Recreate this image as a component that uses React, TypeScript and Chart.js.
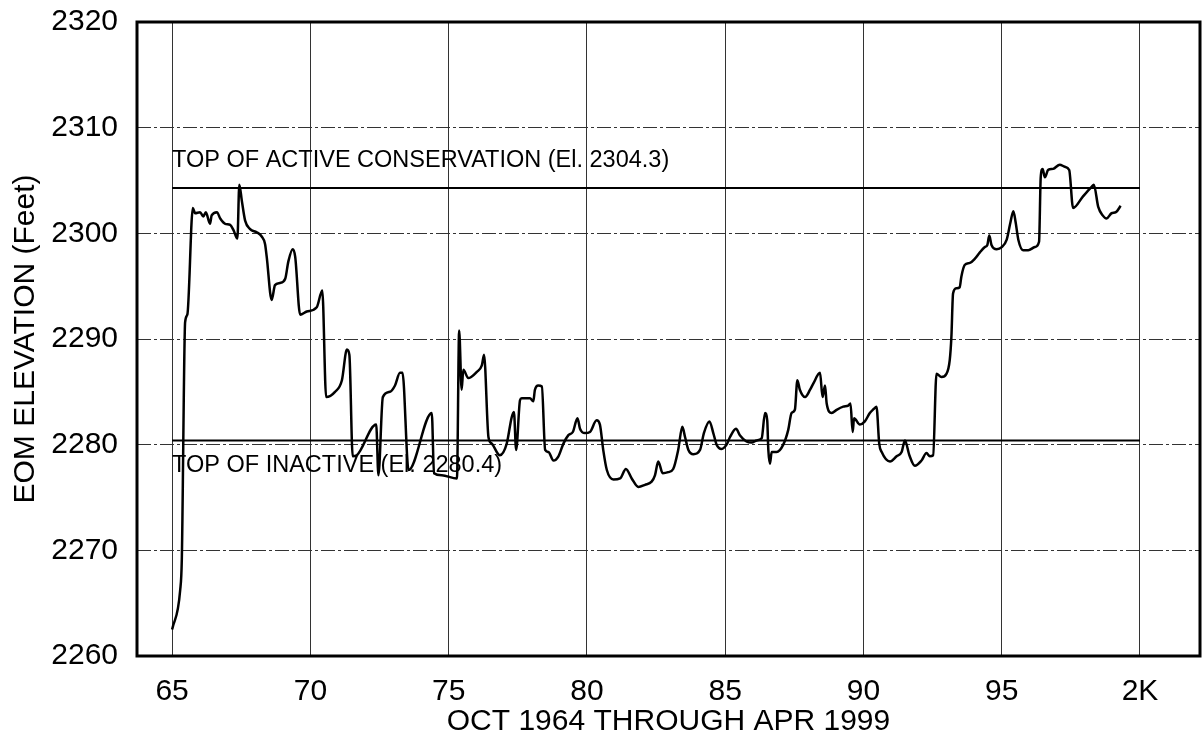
import { useEffect, useRef } from 'react';
import { Chart, registerables } from 'chart.js';

Chart.register(...registerables);

// Time in years (19xx), end-of-month elevation in feet
const years: number[] = [
  65.0, 65.29, 65.35, 65.47, 65.55, 65.75, 65.83, 66.01, 66.13, 66.22,
  66.37, 66.43, 66.62, 66.74, 66.92, 67.1, 67.22, 67.36, 67.43, 67.52,
  67.64, 67.82, 68.06, 68.24, 68.36, 68.42, 68.6, 68.72, 68.9, 69.09,
  69.2, 69.36, 69.45, 69.63, 69.87, 70.23, 70.43, 70.57, 70.89, 71.14,
  71.32, 71.41, 71.53, 71.68, 72.38, 72.46, 72.62, 72.88, 73.06, 73.24,
  73.33, 73.55, 74.39, 74.47, 74.75, 75.3, 75.38, 75.47, 75.53, 75.71,
  76.02, 76.2, 76.28, 76.44, 76.56, 76.85, 77.1, 77.28, 77.36, 77.44,
  77.58, 77.64, 77.94, 78.06, 78.12, 78.24, 78.37, 78.49, 78.61, 78.79,
  78.97, 79.15, 79.33, 79.49, 79.66, 79.75, 79.93, 80.11, 80.35, 80.47,
  80.59, 80.72, 80.96, 81.2, 81.41, 81.62, 81.86, 82.1, 82.34, 82.46,
  82.58, 82.74, 82.94, 83.12, 83.3, 83.45, 83.55, 83.67, 83.85, 84.09,
  84.23, 84.43, 84.57, 84.69, 84.87, 85.05, 85.17, 85.39, 85.53, 85.77,
  85.96, 86.14, 86.32, 86.44, 86.52, 86.56, 86.62, 86.68, 86.86, 87.1,
  87.28, 87.4, 87.52, 87.61, 87.7, 87.89, 88.07, 88.19, 88.43, 88.52,
  88.61, 88.67, 88.85, 89.03, 89.27, 89.45, 89.53, 89.61, 89.66, 89.87,
  90.05, 90.23, 90.38, 90.47, 90.57, 90.66, 90.96, 91.2, 91.38, 91.5,
  91.66, 91.86, 92.1, 92.28, 92.4, 92.52, 92.64, 92.82, 93.0, 93.12,
  93.18, 93.24, 93.36, 93.48, 93.54, 93.66, 93.85, 94.03, 94.21, 94.39,
  94.48, 94.55, 94.63, 94.82, 95.0, 95.18, 95.32, 95.42, 95.5, 95.6,
  95.78, 95.96, 96.2, 96.35, 96.41, 96.48, 96.56, 96.68, 96.86, 97.1,
  97.28, 97.44, 97.58, 97.94, 98.25, 98.33, 98.49, 98.65, 98.79, 98.97,
  99.13, 99.3,
];

const elevations: number[] = [
  2262.5, 2266.2, 2269.1, 2291.6, 2292.3, 2302.4, 2301.9, 2302.0, 2301.6, 2302.0,
  2300.9, 2301.7, 2302.0, 2301.4, 2300.9, 2300.8, 2300.3, 2299.5, 2304.6, 2303.1,
  2301.2, 2300.4, 2300.1, 2299.7, 2299.0, 2297.8, 2293.7, 2295.1, 2295.3, 2295.7,
  2297.3, 2298.5, 2297.8, 2292.3, 2292.6, 2293.0, 2294.6, 2284.5, 2285.0, 2286.1,
  2289.0, 2288.5, 2278.9, 2279.0, 2281.9, 2277.1, 2284.5, 2285.0, 2285.6, 2286.8,
  2286.8, 2277.6, 2283.0, 2277.3, 2277.1, 2276.8, 2290.8, 2285.2, 2287.1, 2286.3,
  2286.9, 2287.5, 2288.5, 2280.7, 2280.1, 2279.0, 2280.1, 2282.6, 2283.1, 2279.5,
  2284.2, 2284.4, 2284.4, 2284.1, 2285.2, 2285.6, 2285.5, 2279.5, 2279.3, 2278.5,
  2278.9, 2280.1, 2280.9, 2281.2, 2282.5, 2281.5, 2281.1, 2281.2, 2282.3, 2281.9,
  2279.5, 2277.6, 2276.7, 2276.8, 2277.7, 2276.8, 2276.0, 2276.2, 2276.5, 2277.1,
  2278.4, 2277.3, 2277.4, 2277.7, 2279.5, 2281.7, 2280.7, 2279.5, 2279.1, 2279.5,
  2281.1, 2282.2, 2281.1, 2280.0, 2279.6, 2280.0, 2280.7, 2281.5, 2280.9, 2280.3,
  2280.2, 2280.4, 2280.6, 2283.0, 2282.3, 2279.5, 2278.2, 2279.3, 2279.3, 2280.0,
  2281.4, 2283.0, 2283.3, 2286.1, 2285.2, 2284.5, 2285.2, 2285.8, 2286.8, 2284.5,
  2285.6, 2283.9, 2283.0, 2283.3, 2283.6, 2283.7, 2283.9, 2281.2, 2282.5, 2281.9,
  2282.2, 2283.0, 2283.4, 2283.6, 2280.1, 2279.3, 2278.4, 2278.9, 2279.3, 2280.4,
  2279.0, 2278.0, 2278.5, 2279.2, 2278.9, 2279.0, 2286.7, 2286.4, 2286.7, 2288.0,
  2290.2, 2294.3, 2294.8, 2294.9, 2295.9, 2297.0, 2297.2, 2297.6, 2298.2, 2298.7,
  2298.9, 2299.8, 2298.9, 2298.5, 2298.7, 2299.4, 2301.1, 2302.1, 2301.1, 2299.4,
  2298.4, 2298.4, 2298.7, 2299.2, 2305.3, 2306.1, 2305.3, 2306.0, 2306.1, 2306.5,
  2306.3, 2306.0, 2302.4, 2303.5, 2304.4, 2304.6, 2302.5, 2301.7, 2301.4, 2301.9,
  2302.0, 2302.6,
];

const xTicks: number[] = [65, 70, 75, 80, 85, 90, 95, 100];
const xTickLabels: string[] = ['65', '70', '75', '80', '85', '90', '95', '2K'];
const yTicks: number[] = [2260, 2270, 2280, 2290, 2300, 2310, 2320];

const activeLevel = 2304.3;
const inactiveLevel = 2280.4;
const refLineSpan: number[] = [65, 100];
const activeLabel = 'TOP OF ACTIVE CONSERVATION (El. 2304.3)';
const inactiveLabel = 'TOP OF INACTIVE (El. 2280.4)';

const xTitle = 'OCT 1964 THROUGH APR 1999';
const yTitle = 'EOM ELEVATION (Feet)';

const FONT = '"Liberation Sans", Arial, Helvetica, sans-serif';

const overlayPlugin = {
  id: 'overlay',
  afterDatasetsDraw(chart: any) {
    const { ctx, chartArea, scales } = chart;
    const x = scales.x;
    const y = scales.y;
    ctx.save();
    ctx.fillStyle = '#000';
    ctx.font = `23.5px ${FONT}`;
    ctx.textAlign = 'left';
    ctx.textBaseline = 'alphabetic';
    ctx.fillText(activeLabel, x.getPixelForValue(refLineSpan[0]), y.getPixelForValue(activeLevel) - 21);
    ctx.fillText(inactiveLabel, x.getPixelForValue(refLineSpan[0]), y.getPixelForValue(inactiveLevel) + 32);
    ctx.lineWidth = 3;
    ctx.strokeStyle = '#000';
    ctx.strokeRect(chartArea.left, chartArea.top, chartArea.right - chartArea.left, chartArea.bottom - chartArea.top);
    ctx.restore();
  },
};

export default function App() {
  const canvasRef = useRef<HTMLCanvasElement | null>(null);

  useEffect(() => {
    if (!canvasRef.current) return;
    const series = years.map((v, i) => ({ x: v, y: elevations[i] }));
    const activeLine = refLineSpan.map((v) => ({ x: v, y: activeLevel }));
    const inactiveLine = refLineSpan.map((v) => ({ x: v, y: inactiveLevel }));

    const chart = new Chart(canvasRef.current, {
      type: 'line',
      data: {
        datasets: [
          {
            data: series,
            borderColor: '#000',
            borderWidth: 2.5,
            pointRadius: 0,
            cubicInterpolationMode: 'monotone',
            fill: false,
          },
          {
            data: activeLine,
            borderColor: '#000',
            borderWidth: 2,
            pointRadius: 0,
            fill: false,
          },
          {
            data: inactiveLine,
            borderColor: '#000',
            borderWidth: 2,
            pointRadius: 0,
            fill: false,
          },
        ],
      },
      options: {
        animation: false,
        responsive: true,
        maintainAspectRatio: false,
        layout: { padding: { top: 22, right: 3, left: 0, bottom: 0 } },
        plugins: {
          legend: { display: false },
          tooltip: { enabled: false },
        },
        scales: {
          x: {
            type: 'linear',
            min: 63.73,
            max: 102.17,
            afterBuildTicks: (s: any) => {
              s.ticks = xTicks.map((v) => ({ value: v }));
            },
            afterFit: (s: any) => {
              s.height = 88;
              s.paddingLeft = 0;
              s.paddingRight = 0;
            },
            ticks: {
              color: '#000',
              font: { family: FONT, size: 30 },
              padding: 18,
              maxRotation: 0,
              autoSkip: false,
              callback: (value: any) => {
                const idx = xTicks.indexOf(Number(value));
                return idx >= 0 ? xTickLabels[idx] : '';
              },
            },
            grid: { color: '#333', lineWidth: 1, drawTicks: false },
            border: { display: false },
            title: {
              display: true,
              text: xTitle,
              color: '#000',
              font: { family: FONT, size: 30 },
              padding: { top: 0, bottom: 4 },
            },
          },
          y: {
            type: 'linear',
            min: 2260,
            max: 2320,
            afterBuildTicks: (s: any) => {
              s.ticks = yTicks.map((v) => ({ value: v }));
            },
            afterFit: (s: any) => {
              s.width = 137;
              s.paddingTop = 0;
              s.paddingBottom = 0;
            },
            ticks: {
              color: '#000',
              font: { family: FONT, size: 30 },
              padding: 19,
              autoSkip: false,
              callback: (value: any) => String(value),
            },
            grid: { color: '#333', lineWidth: 1, drawTicks: false },
            border: { display: false, dash: [14, 3, 3, 3] },
            title: {
              display: true,
              text: yTitle,
              color: '#000',
              font: { family: FONT, size: 30 },
              padding: { top: 8, bottom: 0 },
            },
          },
        },
      },
      plugins: [overlayPlugin],
    });
    return () => chart.destroy();
  }, []);

  return (
    <div style={{ position: 'absolute', left: 0, top: 0, width: 1203, height: 744, background: '#fff' }}>
      <canvas ref={canvasRef} />
    </div>
  );
}
